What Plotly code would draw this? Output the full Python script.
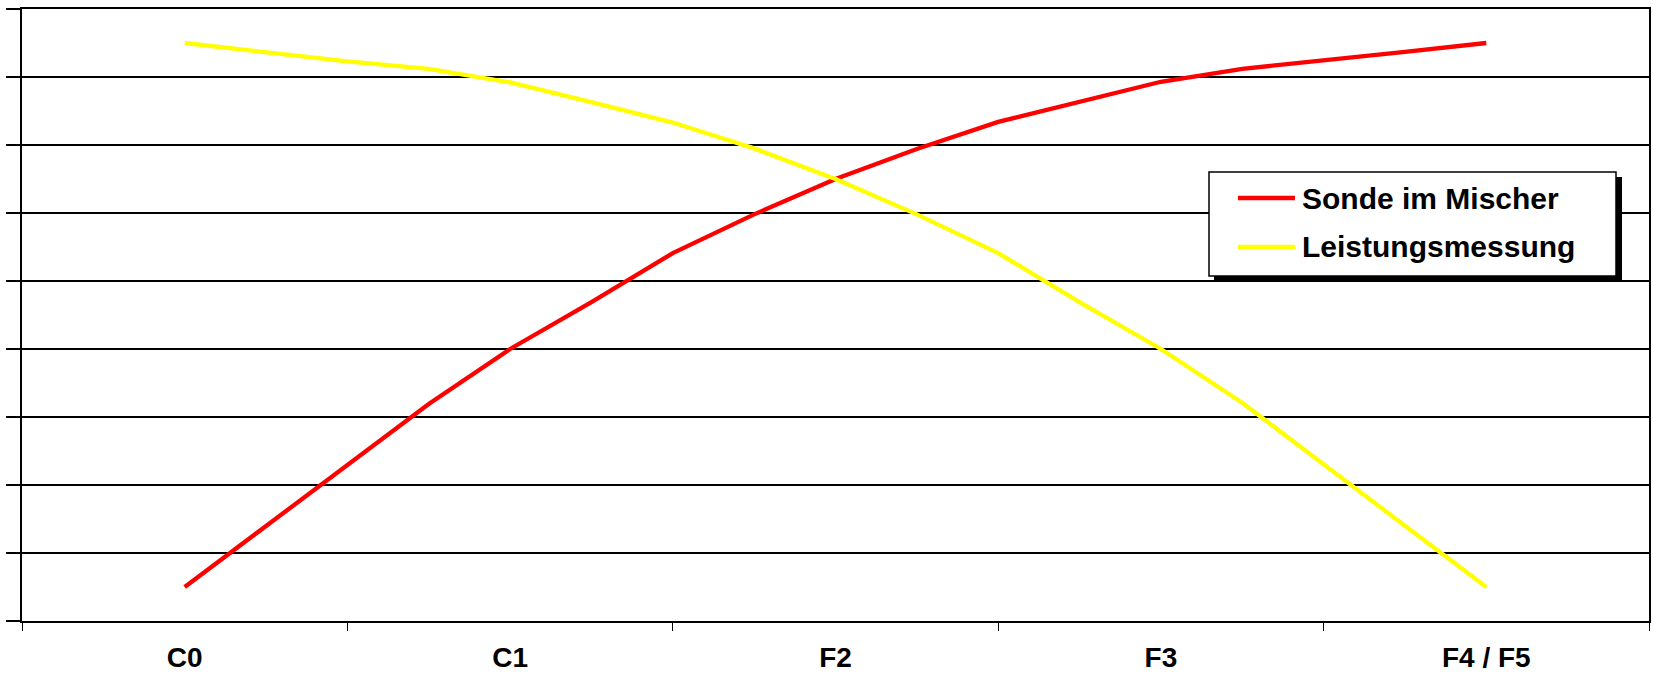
import plotly.graph_objects as go

# Measurement stages (labels sit on every fourth sample position)
stage_labels = ["C0", "C1", "F2", "F3", "F4 / F5"]
stage_positions = [0, 4, 8, 12, 16]
stage_boundaries = [-2, 2, 6, 10, 14, 18]

# Sample positions along the process (quarter-stage steps)
sample_x = [0, 1, 2, 3, 4, 5, 6, 7, 8, 9, 10, 11, 12, 13, 14, 15, 16]

# Series values
sonde_im_mischer = [0.5, 1.4, 2.3, 3.19, 4.0, 4.69, 5.41, 5.98, 6.5,
                    6.94, 7.34, 7.63, 7.93, 8.12, 8.24, 8.37, 8.5]
leistungsmessung = [8.5, 8.37, 8.23, 8.12, 7.92, 7.63, 7.33, 6.95, 6.5,
                    5.98, 5.41, 4.69, 4.0, 3.21, 2.3, 1.4, 0.5]

series_names = ["Sonde im Mischer", "Leistungsmessung"]
series_colors = ["#FF0000", "#FFFF00"]

W, H = 1653, 676
ML, MR, MT, MB = 22, 4, 9, 55
PW, PH = W - ML - MR, H - MT - MB
FONT = "Arial, 'Liberation Sans', sans-serif"


def px_x(x):
    return (x - ML) / PW


def px_y(y):
    return (H - MB - y) / PH


fig = go.Figure()
for name, vals, col in zip(series_names, [sonde_im_mischer, leistungsmessung], series_colors):
    fig.add_trace(go.Scatter(
        x=sample_x, y=vals, mode="lines", name=name,
        line=dict(color=col, width=4.3), showlegend=False,
    ))

# Boxed legend with a drop shadow
box = (1209, 172, 1616, 276)
shapes = [
    dict(type="rect", xref="paper", yref="paper",
         x0=px_x(box[0] + 5), x1=px_x(box[2] + 6),
         y0=px_y(box[3] + 6), y1=px_y(box[1] + 5),
         fillcolor="black", line=dict(width=0), layer="above"),
    dict(type="rect", xref="paper", yref="paper",
         x0=px_x(box[0]), x1=px_x(box[2]),
         y0=px_y(box[3]), y1=px_y(box[1]),
         fillcolor="white", line=dict(color="black", width=1.5), layer="above"),
]
annotations = []
for i, (name, col) in enumerate(zip(series_names, series_colors)):
    yy = 198 + i * 49
    shapes.append(dict(type="line", xref="paper", yref="paper",
                       x0=px_x(1238), x1=px_x(1295), y0=px_y(yy), y1=px_y(yy),
                       line=dict(color=col, width=4.3), layer="above"))
    annotations.append(dict(xref="paper", yref="paper", x=px_x(1300), y=px_y(yy),
                            xanchor="left", yanchor="middle", showarrow=False,
                            text="<b>%s</b>" % name,
                            font=dict(family=FONT, size=30, color="black")))

fig.update_layout(
    width=W, height=H,
    margin=dict(l=ML, r=MR, t=MT, b=MB, autoexpand=False),
    paper_bgcolor="white", plot_bgcolor="white",
    showlegend=False,
    shapes=shapes, annotations=annotations,
    font=dict(family=FONT, color="black"),
)

fig.update_xaxes(
    range=[-2, 18], tickmode="array",
    tickvals=stage_positions,
    ticktext=["<b>%s</b>" % s for s in stage_labels],
    tickfont=dict(family=FONT, size=28, color="black"),
    ticks="", ticklabelstandoff=11, automargin=False,
    showgrid=False, zeroline=False,
    showline=True, linecolor="black", linewidth=1.6, mirror=True,
    minor=dict(tickvals=stage_boundaries, ticks="outside", ticklen=8,
               tickwidth=1.2, tickcolor="black", showgrid=False),
)
fig.update_yaxes(
    range=[0, 9], dtick=1, tick0=0, automargin=False,
    showticklabels=False, ticks="outside", ticklen=14,
    tickwidth=1.5, tickcolor="black",
    showgrid=True, gridcolor="black", gridwidth=1.6,
    zeroline=False,
    showline=True, linecolor="black", linewidth=1.6, mirror=True,
)

fig.write_html("out.html")
